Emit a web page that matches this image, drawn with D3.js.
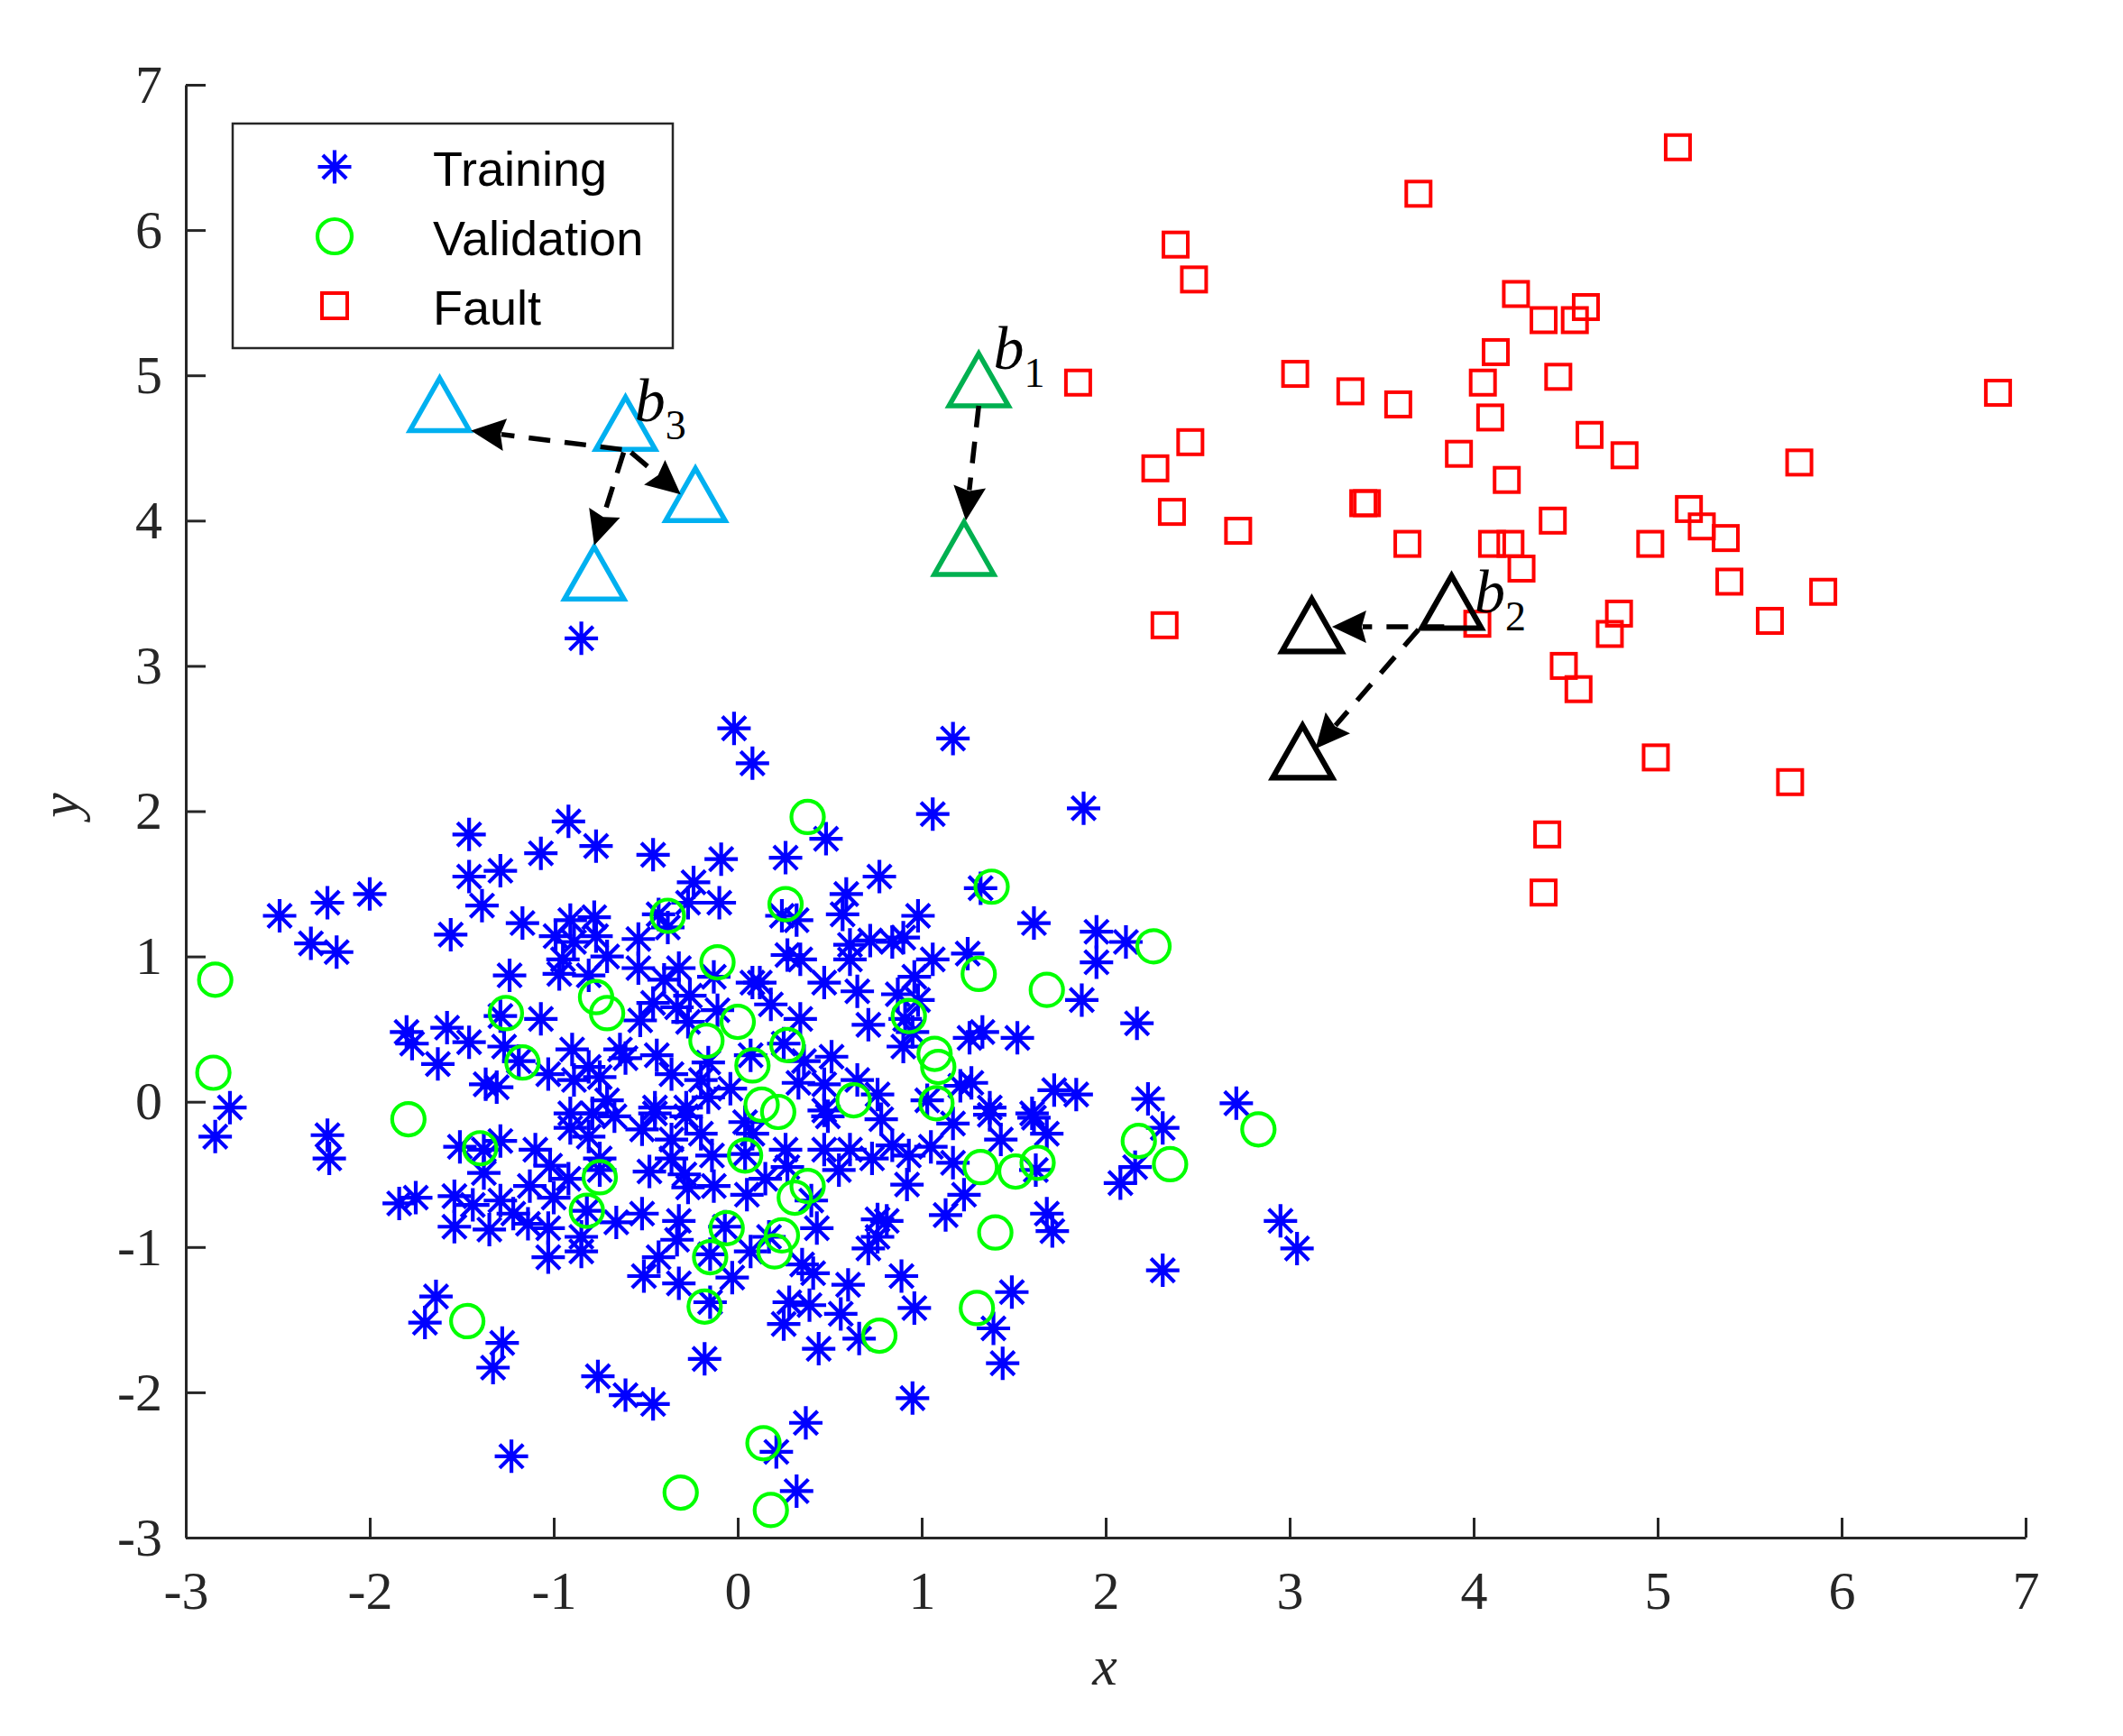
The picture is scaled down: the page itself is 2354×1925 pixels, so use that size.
<!DOCTYPE html>
<html>
<head>
<meta charset="utf-8">
<script src="https://cdn.jsdelivr.net/npm/d3@7"></script>
<style>
  body { margin: 0; background: #fff; }
  svg { display: block; }
</style>
</head>
<body>
<div id="chart"></div>
<script>
// Training / validation / fault samples (x, y)
const trainingPoints = [
  [-0.02,2.57],[0.08,2.33],[-1.46,1.84],[-0.92,1.93],[-0.77,1.76],[-1.07,1.71],[-0.46,1.70],[-0.09,1.67],[-1.46,1.55],[-1.29,1.59],
  [-0.24,1.51],[-0.10,1.37],[-0.27,1.37],[-1.39,1.35],[-2.49,1.28],[-2.23,1.37],[-2.00,1.43],[-2.32,1.09],[-2.18,1.03],[-1.56,1.15],
  [-1.17,1.23],[-0.91,1.25],[-0.78,1.27],[-0.43,1.29],[-0.38,1.20],[-0.99,1.14],[-0.89,1.10],[-0.77,1.14],[-0.71,1.00],[-0.95,0.98],
  [-0.54,1.12],[-0.54,0.92],[-0.97,0.88],[-0.81,0.87],[-0.32,0.92],[-0.40,0.84],[-0.13,0.86],[0.08,0.82],[-0.46,0.68],[-0.33,0.65],
  [-0.26,0.73],[-0.11,0.63],[-0.53,0.56],[-1.24,0.87],[-1.29,0.59],[-1.07,0.57],[-1.80,0.48],[-1.58,0.51],[-1.77,0.40],[-1.46,0.41],
  [-1.27,0.38],[-1.63,0.26],[-1.19,0.28],[-1.03,0.19],[-1.37,0.12],[-1.31,0.10],[-0.90,0.36],[-0.89,0.15],[-0.75,0.17],[-0.64,0.36],
  [-0.61,0.30],[-0.44,0.32],[-0.36,0.19],[-0.20,0.15],[-0.16,0.27],[-0.04,0.09],[-0.71,0.01],[-0.45,-0.04],[-0.28,-0.04],[-0.16,0.03],
  [-0.91,-0.08],[-0.79,-0.08],[-2.76,-0.04],[-0.81,0.24],[-0.27,0.55],
  [1.17,2.50],[1.06,1.98],[1.88,2.02],[0.48,1.81],[0.26,1.68],[0.77,1.55],[0.59,1.43],[1.32,1.47],[0.57,1.29],[0.24,1.28],
  [0.32,1.25],[0.98,1.28],[1.61,1.23],[1.95,1.17],[2.11,1.10],[1.95,0.96],[0.61,1.08],[0.72,1.11],[0.84,1.10],[0.90,1.13],
  [1.06,0.98],[1.25,1.02],[0.27,1.01],[0.34,0.98],[0.61,0.98],[0.12,0.82],[0.47,0.82],[0.65,0.76],[0.96,0.86],[0.87,0.74],
  [0.98,0.70],[1.87,0.70],[2.17,0.54],[0.18,0.67],[0.34,0.57],[0.71,0.53],[0.91,0.57],[0.95,0.48],[1.26,0.44],[1.33,0.48],
  [1.52,0.44],[0.90,0.38],[0.25,0.40],[0.07,0.32],[0.36,0.28],[0.51,0.31],[0.33,0.13],[0.47,0.12],[0.65,0.15],[0.76,0.05],
  [1.21,0.11],[1.27,0.13],[1.03,0.01],[1.37,-0.04],[1.72,0.08],[1.84,0.05],[2.23,0.02],[2.71,-0.01],[1.60,-0.08],[0.47,-0.06],
  [-2.84,-0.24],[-2.23,-0.23],[-2.22,-0.39],[-1.84,-0.70],[-1.75,-0.66],[-1.54,-0.65],[-1.51,-0.31],[-1.29,-0.27],[-1.38,-0.33],[-1.38,-0.49],
  [-1.44,-0.71],[-1.54,-0.86],[-1.35,-0.88],[-1.29,-0.68],[-1.22,-0.77],[-1.13,-0.58],[-1.10,-0.33],[-1.02,-0.44],[-1.14,-0.84],[-1.03,-0.87],
  [-1.00,-0.66],[-0.92,-0.53],[-1.03,-1.07],[-0.85,-1.03],[-0.85,-0.93],[-0.91,-0.18],[-0.81,-0.24],[-0.75,-0.39],[-0.75,-0.47],[-0.67,-0.10],
  [-0.82,-0.75],[-0.66,-0.83],[-0.52,-0.77],[-0.52,-0.19],[-0.45,-0.08],[-0.36,-0.26],[-0.28,-0.10],[-0.20,-0.22],[-0.48,-0.48],[-0.36,-0.39],
  [-0.27,-0.59],[-0.13,-0.58],[-0.14,-0.37],[0.04,-0.14],[0.05,-0.64],[-0.32,-0.82],[-0.33,-0.95],[-0.43,-1.07],[-0.51,-1.20],[-0.32,-1.25],
  [-0.15,-1.05],[-0.03,-1.21],[-0.15,-1.38],[-0.07,-0.86],[0.07,-1.03],[-1.64,-1.34],[-1.70,-1.52],[-1.28,-1.66],[-1.33,-1.83],[-0.76,-1.89],
  [-0.61,-2.02],[-0.46,-2.08],[-0.18,-1.77],[-1.23,-2.44],[-0.29,-0.50],[0.04,-0.36],[0.08,-0.22],
  [1.37,-0.09],[1.61,-0.11],[1.68,-0.22],[1.43,-0.26],[1.17,-0.15],[0.78,-0.12],[0.49,-0.10],[2.31,-0.18],[2.16,-0.45],[2.08,-0.56],
  [2.95,-0.82],[3.04,-1.01],[2.31,-1.16],[1.62,-0.47],[1.68,-0.77],[1.71,-0.89],[1.23,-0.64],[1.13,-0.78],[0.92,-0.57],[1.05,-0.31],
  [1.17,-0.42],[0.93,-0.37],[0.84,-0.30],[0.73,-0.39],[0.61,-0.33],[0.55,-0.47],[0.47,-0.33],[0.26,-0.33],[0.27,-0.45],[0.15,-0.53],
  [0.40,-0.68],[0.43,-0.87],[0.17,-0.93],[0.76,-0.81],[0.81,-0.82],[0.76,-0.93],[0.71,-1.01],[0.35,-1.12],[0.41,-1.18],[0.60,-1.26],
  [0.89,-1.20],[0.96,-1.42],[0.28,-1.38],[0.39,-1.40],[0.56,-1.46],[0.25,-1.53],[0.66,-1.63],[0.44,-1.70],[1.49,-1.31],[1.39,-1.56],
  [1.44,-1.80],[0.95,-2.04],[0.37,-2.21],[0.21,-2.41],[0.32,-2.68],[-0.85,3.19]
];

const validationPoints = [
  [-2.84,0.84],[-2.85,0.20],[-1.26,0.61],[-1.17,0.27],[-0.77,0.72],[-0.71,0.61],[-0.38,1.28],[-0.11,0.96],[0.00,0.55],[-0.17,0.42],
  [0.08,0.25],[-1.79,-0.12],[0.13,-0.02],[0.38,1.96],[1.38,1.48],[0.26,1.36],[2.26,1.07],[1.31,0.88],[1.68,0.77],[0.93,0.59],
  [0.27,0.39],[1.07,0.33],[1.09,0.24],[0.63,0.01],[1.08,-0.01],[0.22,-0.07],[-1.40,-0.32],[-0.75,-0.52],[-0.82,-0.75],[-0.06,-0.87],
  [-0.15,-1.07],[-0.18,-1.41],[0.04,-0.37],[-1.47,-1.51],[-0.31,-2.69],[0.14,-2.35],[0.18,-2.81],[2.18,-0.27],[2.35,-0.43],[2.83,-0.19],
  [1.32,-0.45],[1.51,-0.48],[1.63,-0.42],[1.40,-0.90],[1.30,-1.42],[0.77,-1.61],[0.38,-0.58],[0.31,-0.66],[0.24,-0.92],[0.20,-1.03]
];

const faultPoints = [
  [5.11,6.57],[3.70,6.25],[2.38,5.90],[2.48,5.66],[4.23,5.56],[4.38,5.38],[4.55,5.38],[4.61,5.47],[4.12,5.16],[3.03,5.01],
  [1.85,4.95],[4.05,4.95],[4.46,4.99],[3.33,4.89],[3.59,4.80],[4.09,4.71],[6.85,4.88],[2.46,4.54],[2.27,4.36],[4.63,4.59],
  [4.82,4.45],[3.92,4.46],[4.18,4.28],[5.77,4.40],[2.36,4.06],[3.40,4.12],[3.42,4.12],[4.43,4.00],[2.72,3.93],[3.64,3.84],
  [4.10,3.84],[4.20,3.84],[4.26,3.67],[4.96,3.84],[5.17,4.08],[5.24,3.96],[5.37,3.88],[5.39,3.58],[5.90,3.51],[5.61,3.31],
  [2.32,3.28],[4.02,3.29],[4.74,3.22],[4.79,3.36],[4.49,3.00],[4.57,2.84],[4.99,2.37],[5.72,2.20],[4.40,1.84],[4.38,1.44]
];

// basis points: the first of each group is the original b_i, the rest are where it moves
const basisNames = ["b1", "b2", "b3"];
const b1Points = [[1.31,4.97],[1.23,3.81]];
const b2Points = [[3.88,3.44],[3.12,3.28],[3.07,2.41]];
const b3Points = [[-0.61,4.67],[-1.62,4.80],[-0.23,4.18],[-0.78,3.64]];

// dashed arrows [x1, y1, x2, y2]
const arrowSegments = [
  [-0.63,4.49,-1.45,4.62],
  [-0.58,4.47,-0.31,4.18],
  [-0.62,4.47,-0.78,3.83],
  [1.31,4.79,1.24,4.00],
  [3.84,3.27,3.23,3.27],
  [3.70,3.25,3.14,2.43]
];

// label anchors (baseline-left of the "b")
const basisLabelPos = [[1.39,5.045],[4.005,3.37],[-0.56,4.685]];

const xTicks = [-3,-2,-1,0,1,2,3,4,5,6,7];
const yTicks = [-3,-2,-1,0,1,2,3,4,5,6,7];
const legendLabels = ["Training", "Validation", "Fault"];

// ---------------------------------------------------------------
const W = 2354, H = 1925;
const axisColor = "#262626";
const colors = {training: "#0000ff", validation: "#00ff00", fault: "#ff0000"};
const basisColors = {b1: "#00b050", b2: "#000000", b3: "#00b0f0"};

const svg = d3.select("#chart").append("svg")
    .attr("width", W)
    .attr("height", H)
    .style("background", "#fff");

const x = d3.scaleLinear().domain([-3, 7]).range([206, 2246]);
const y = d3.scaleLinear().domain([-3, 7]).range([1705, 94]);

// axes (ticks inward, no box)
const xAxis = svg.append("g")
    .attr("transform", `translate(0,${y(-3)})`)
    .call(d3.axisBottom(x).tickValues(xTicks).tickSizeInner(-22).tickSizeOuter(0).tickPadding(36).tickFormat(d3.format("d")));
const yAxis = svg.append("g")
    .attr("transform", `translate(${x(-3)},0)`)
    .call(d3.axisLeft(y).tickValues(yTicks).tickSizeInner(-22).tickSizeOuter(0).tickPadding(26).tickFormat(d3.format("d")));

[xAxis, yAxis].forEach(g => {
    g.select(".domain").attr("stroke", axisColor).attr("stroke-width", 3);
    g.selectAll(".tick line").attr("stroke", axisColor).attr("stroke-width", 3);
    g.selectAll(".tick text")
        .attr("fill", axisColor)
        .style("font-family", "'Liberation Serif', 'DejaVu Serif', serif")
        .style("font-size", "60px")
        .text(d => d < 0 ? "-" + Math.abs(d) : d);
});

svg.append("text")
    .attr("x", 1225).attr("y", 1868)
    .attr("text-anchor", "middle")
    .style("font-family", "'Liberation Serif', serif")
    .style("font-style", "italic")
    .style("font-size", "62px")
    .attr("fill", axisColor)
    .text("x");

svg.append("text")
    .attr("transform", "translate(87,893) rotate(-90)")
    .attr("text-anchor", "middle")
    .style("font-family", "'Liberation Serif', serif")
    .style("font-style", "italic")
    .style("font-size", "62px")
    .attr("fill", axisColor)
    .text("y");

// marker shapes
function starPath(r) {
    let d = r * Math.SQRT1_2;
    return `M0,${-r}V${r}M${-r},0H${r}M${-d},${-d}L${d},${d}M${-d},${d}L${d},${-d}`;
}
function trianglePath(w, h) {
    return `M0,${-h/2}L${w/2},${h/2}L${-w/2},${h/2}Z`;
}

const plot = svg.append("g");

plot.selectAll(".train")
    .data(trainingPoints)
    .enter().append("path")
    .attr("class", "train")
    .attr("transform", d => `translate(${x(d[0])},${y(d[1])})`)
    .attr("d", starPath(18.5))
    .attr("fill", "none")
    .attr("stroke", colors.training)
    .attr("stroke-width", 4.2);

plot.selectAll(".val")
    .data(validationPoints)
    .enter().append("circle")
    .attr("class", "val")
    .attr("cx", d => x(d[0]))
    .attr("cy", d => y(d[1]))
    .attr("r", 18)
    .attr("fill", "none")
    .attr("stroke", colors.validation)
    .attr("stroke-width", 4.2);

plot.selectAll(".fault")
    .data(faultPoints)
    .enter().append("rect")
    .attr("class", "fault")
    .attr("x", d => x(d[0]) - 13.5)
    .attr("y", d => y(d[1]) - 13.5)
    .attr("width", 27)
    .attr("height", 27)
    .attr("fill", "none")
    .attr("stroke", colors.fault)
    .attr("stroke-width", 4);

// basis triangles
const basisGroups = [b1Points, b2Points, b3Points];
basisGroups.forEach((pts, i) => {
    plot.selectAll(".tri-" + basisNames[i])
        .data(pts)
        .enter().append("path")
        .attr("transform", d => `translate(${x(d[0])},${y(d[1])})`)
        .attr("d", trianglePath(66, 58))
        .attr("fill", "none")
        .attr("stroke", basisColors[basisNames[i]])
        .attr("stroke-width", basisNames[i] === "b2" ? 6.2 : 5.5)
        .attr("stroke-linejoin", "miter");
});

// dashed arrows
const headLen = 38, headHalf = 18;
arrowSegments.forEach(s => {
    let x1 = x(s[0]), y1 = y(s[1]), x2 = x(s[2]), y2 = y(s[3]);
    let len = Math.hypot(x2 - x1, y2 - y1);
    let ux = (x2 - x1) / len, uy = (y2 - y1) / len;
    let bx = x2 - ux * headLen, by = y2 - uy * headLen;
    plot.append("line")
        .attr("x1", x1).attr("y1", y1)
        .attr("x2", bx + ux * 4).attr("y2", by + uy * 4)
        .attr("stroke", "#000")
        .attr("stroke-width", 5.5)
        .attr("stroke-dasharray", "24,16");
    let px = -uy, py = ux;
    let nx = bx + ux * 5, ny = by + uy * 5;
    plot.append("path")
        .attr("d", `M${x2},${y2}L${bx + px*headHalf},${by + py*headHalf}L${nx},${ny}L${bx - px*headHalf},${by - py*headHalf}Z`)
        .attr("fill", "#000");
});

// b_i labels
basisLabelPos.forEach((p, i) => {
    let t = plot.append("text")
        .attr("x", x(p[0]))
        .attr("y", y(p[1]))
        .style("font-family", "'Liberation Serif', serif")
        .style("font-size", "68px")
        .attr("fill", "#000");
    t.append("tspan").style("font-style", "italic").text("b");
    t.append("tspan").attr("dy", 20).style("font-size", "46px").text(basisNames[i].slice(1));
});

// legend
const legend = svg.append("g");
legend.append("rect")
    .attr("x", 258).attr("y", 137)
    .attr("width", 488).attr("height", 249)
    .attr("fill", "#fff")
    .attr("stroke", axisColor)
    .attr("stroke-width", 2.5);

const legendY = d3.scalePoint().domain(legendLabels).range([185, 339]);
legendLabels.forEach(name => {
    let cy = legendY(name);
    if (name === "Training") {
        legend.append("path").attr("transform", `translate(371,${cy})`)
            .attr("d", starPath(18.5)).attr("fill", "none")
            .attr("stroke", colors.training).attr("stroke-width", 4.2);
    } else if (name === "Validation") {
        legend.append("circle").attr("cx", 371).attr("cy", cy).attr("r", 19)
            .attr("fill", "none").attr("stroke", colors.validation).attr("stroke-width", 4.2);
    } else {
        legend.append("rect").attr("x", 371 - 14).attr("y", cy - 14)
            .attr("width", 28).attr("height", 28)
            .attr("fill", "none").attr("stroke", colors.fault).attr("stroke-width", 4);
    }
    legend.append("text")
        .attr("x", 480).attr("y", cy + 21)
        .style("font-family", "'Liberation Sans', Arial, sans-serif")
        .style("font-size", "54px")
        .attr("fill", "#000")
        .text(name);
});
</script>
</body>
</html>
